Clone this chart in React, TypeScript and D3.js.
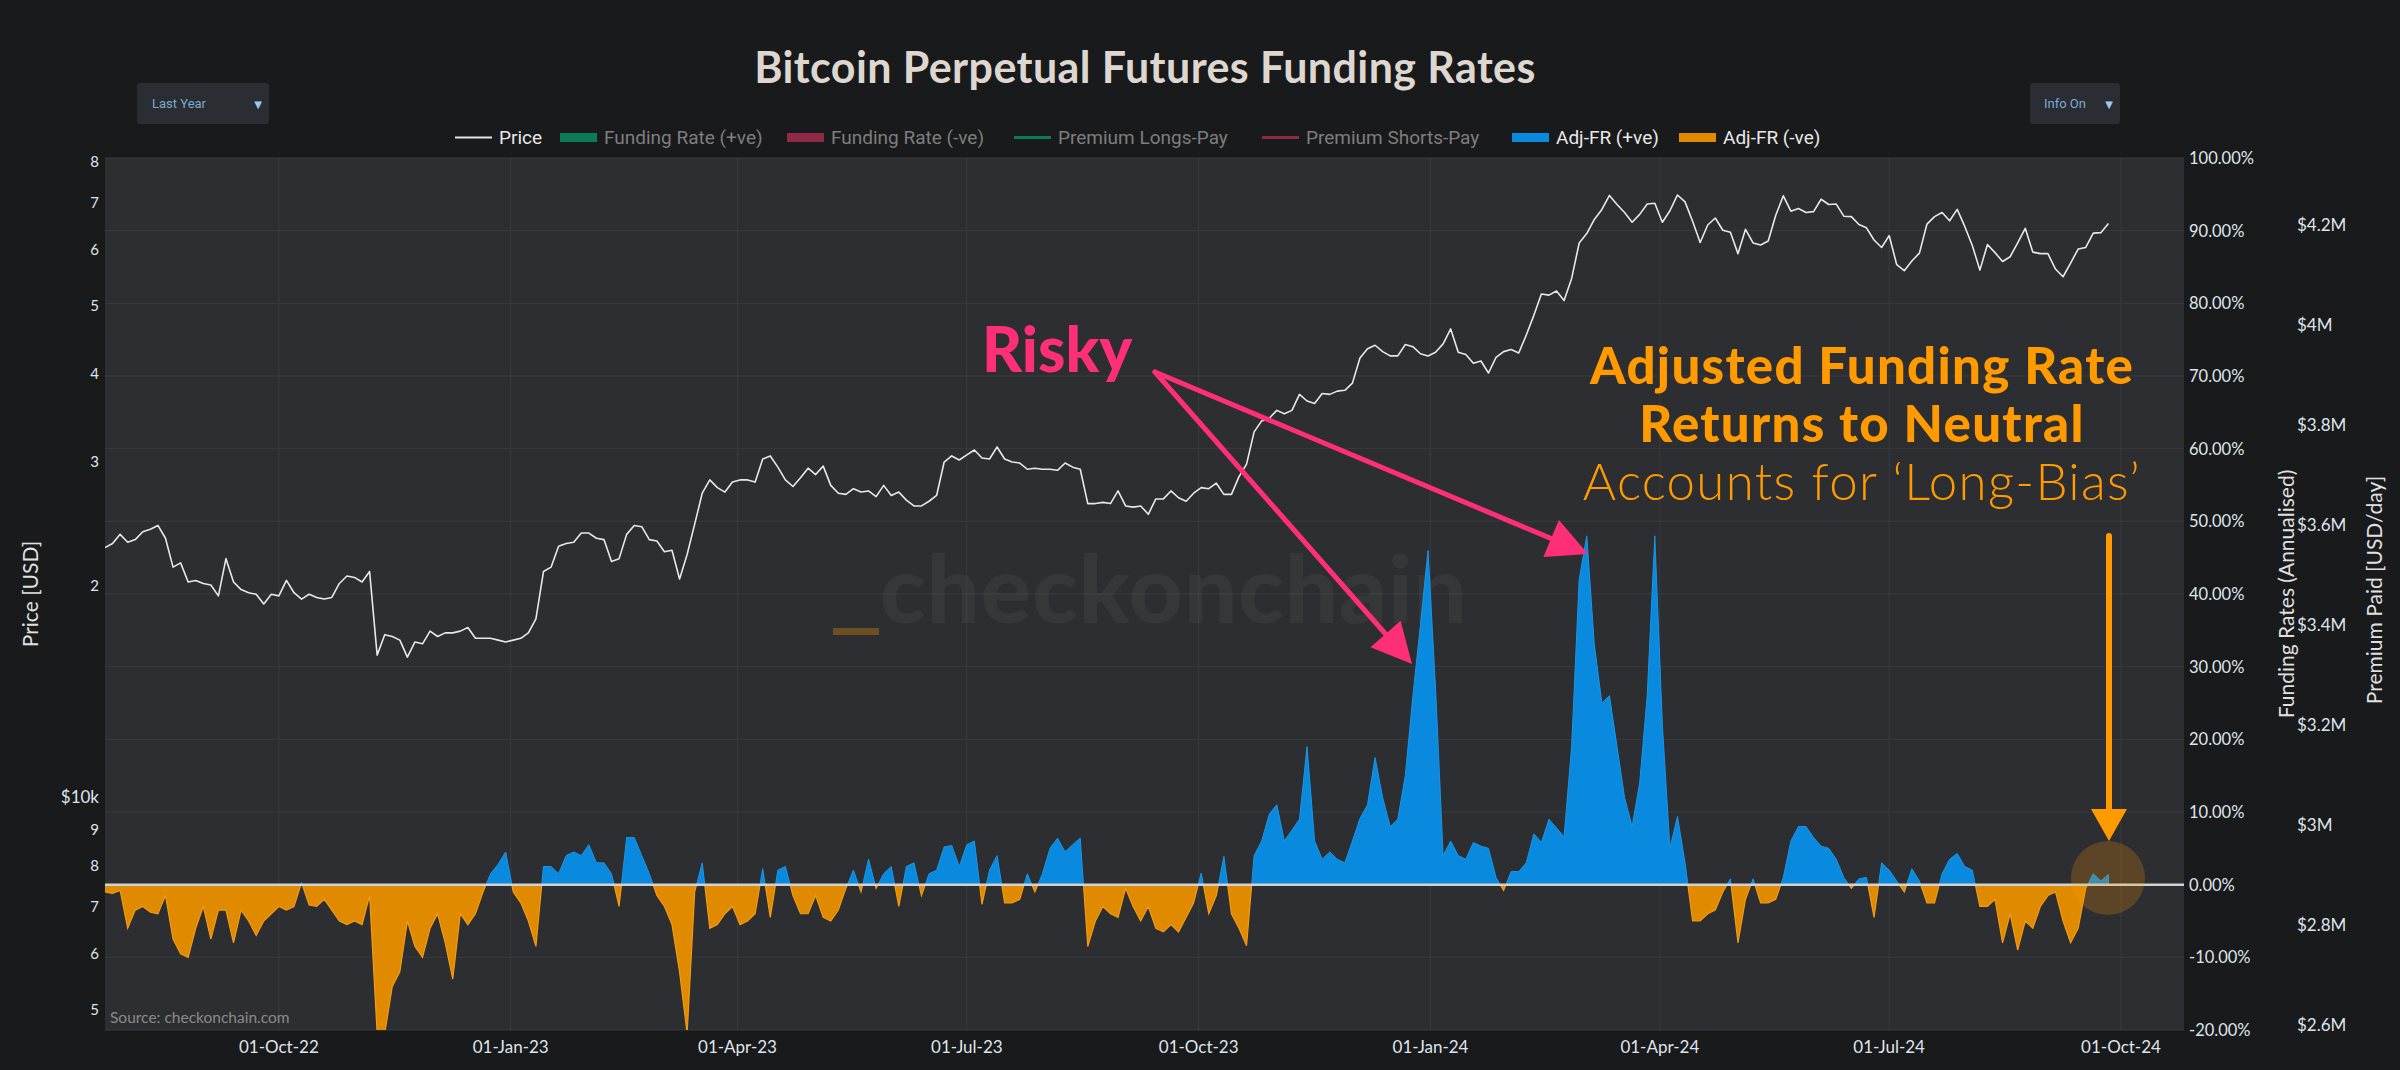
import React from "react";
import * as d3 from "d3";

if (typeof document !== "undefined") {
  document.body.style.margin = "0";
  document.body.style.background = "#191a1c";
  document.body.style.overflow = "hidden";
}

// ---------- DATA ----------
const START = Date.UTC(2022, 6, 24);
const STEP_DAYS = 3;
const END_AXIS = Date.UTC(2024, 9, 26);

// BTC price, thousands of USD, every 3 days from 24-Jul-22
const priceK = [
  22.6, 22.9, 23.6, 23.0, 23.2, 23.8, 24.0, 24.3, 23.3, 21.2, 21.5, 20.2, 20.3, 20.1, 20.0, 19.3, 21.8, 20.2, 19.7, 19.5,
  19.4, 18.8, 19.4, 19.3, 20.3, 19.5, 19.1, 19.4, 19.2, 19.1, 19.2, 20.1, 20.6, 20.5, 20.2, 20.9, 15.9, 17.0, 16.9, 16.7,
  15.8, 16.6, 16.5, 17.2, 16.9, 17.1, 17.1, 17.2, 17.4, 16.8, 16.8, 16.8, 16.7, 16.6, 16.7, 16.8, 17.1, 17.9, 20.9, 21.2,
  22.7, 22.9, 23.0, 23.7, 23.7, 23.3, 23.2, 21.6, 21.8, 23.6, 24.3, 24.2, 23.2, 23.1, 22.3, 22.4, 20.4, 22.1, 24.4, 27.0,
  28.2, 27.5, 27.1, 28.0, 28.2, 28.2, 28.0, 30.2, 30.5, 29.4, 28.2, 27.6, 28.4, 29.3, 28.7, 29.5, 27.7, 27.0, 26.9, 27.4,
  27.1, 27.2, 26.7, 27.7, 26.8, 27.1, 26.4, 25.9, 25.9, 26.3, 26.8, 29.9, 30.5, 30.1, 30.6, 31.1, 30.3, 30.2, 31.4, 30.2,
  29.9, 29.8, 29.2, 29.3, 29.2, 29.2, 29.1, 29.8, 29.4, 29.2, 26.1, 26.1, 26.2, 26.1, 27.2, 25.9, 25.8, 25.9, 25.2, 26.5,
  26.5, 27.2, 26.6, 26.3, 27.0, 27.5, 27.4, 27.9, 26.9, 26.9, 28.5, 29.7, 33.0, 34.2, 34.5, 35.4, 35.0, 35.4, 37.3, 36.5,
  36.2, 37.4, 37.3, 37.7, 37.8, 38.7, 42.0, 43.3, 43.8, 42.9, 42.3, 42.3, 43.9, 43.6, 42.6, 42.3, 42.8, 44.0, 46.2, 42.8,
  42.5, 41.3, 41.6, 40.0, 42.1, 42.9, 43.2, 42.7, 45.3, 48.3, 51.8, 51.6, 52.3, 50.7, 54.5, 61.2, 63.1, 66.1, 68.3, 71.5,
  69.4, 67.6, 65.5, 67.2, 69.5, 69.7, 65.5, 68.0, 71.6, 70.0, 65.7, 61.3, 64.9, 66.4, 63.8, 63.4, 59.1, 64.0, 61.2, 60.8,
  61.6, 67.0, 71.4, 67.9, 68.5, 67.6, 67.8, 70.6, 69.4, 69.5, 66.8, 66.7, 65.0, 64.3, 61.8, 60.3, 62.7, 57.0, 55.9, 57.7,
  59.2, 65.1, 66.7, 67.6, 65.8, 68.3, 64.6, 60.7, 56.0, 60.9, 59.3, 57.6, 58.5, 61.2, 64.2, 59.4, 59.1, 59.1, 56.2, 54.8,
  57.3, 60.0, 60.3, 63.2, 63.3, 65.2,
];

// Adjusted funding rate, annualised %, same dates
const adjFR = [
  -1.0, -1.2, -0.8, -6.0, -3.5, -3.0, -3.8, -4.0, -1.5, -7.5, -9.5, -10, -6, -3.0, -7.5, -3.5, -3.5, -8.0, -3.5, -5,
  -7, -5, -4, -3, -3.5, -3.0, 0.3, -2.8, -3.0, -2.0, -3.5, -5.0, -5.5, -5.0, -5.5, -1.5, -20.5, -20.5, -14, -12,
  -5, -8.5, -10, -6, -4, -8, -13, -4, -5.5, -4, -1, 1.5, 2.8, 4.5, -1.0, -2.5, -5, -8.5, 2.5, 2.5,
  1.5, 4, 4.5, 4.0, 5.5, 3, 3, 1.5, -3, 6.5, 6.5, 4, 1.5, -1.5, -3, -5.5, -12, -20.5, -1, 3,
  -6, -5.5, -4, -3, -5.5, -5, -4, 2.2, -4.5, 2, 2.5, -1.5, -4, -4, -1.5, -4.5, -5, -3.5, -0.5, 2,
  -1.0, 3.5, -0.5, 1.5, 2.5, -3.0, 2.5, 3, -1.5, 1.5, 2, 5.2, 5.4, 2.5, 5.5, 6, -2.7, 2, 4, -2.5,
  -2.5, -2, 1.5, -1, 1.5, 5, 6.4, 4.5, 5.5, 6.4, -8.5, -5, -3, -4, -4.5, -0.5, -3, -5, -3, -6,
  -6.5, -5.5, -6.5, -4.5, -2.5, 1.6, -4, -1.5, 3.9, -4, -6, -8.4, 4, 6, 9.7, 11, 6, 7.5, 9, 19,
  6, 3.5, 4.5, 3.5, 3, 6, 9.1, 11, 17.5, 12, 8, 9, 15, 26, 35.7, 46, 27, 4, 6, 4,
  3.5, 5.8, 5.3, 5, 1, -0.8, 1.8, 1.8, 3, 7, 5.8, 9, 7.8, 6.6, 19, 42, 48, 33, 25, 26,
  19, 12, 8, 14, 26, 48, 22, 5, 9.4, 3, -5, -5, -4, -3.5, -1, 0.8, -8, -2, 0.8, -2.5,
  -2.5, -2, 1, 6, 8, 8, 6.5, 5.3, 5, 3.5, 1, -0.5, 0.8, 1, -4.5, 3, 2, 0.5, -1, 2.2,
  0.5, -2.5, -2.5, 1.5, 3.5, 4.3, 2.5, 2, -3, -3, -2, -8, -4, -9, -5, -6, -3, -1.5, -1, -5,
  -8, -6, -0.5, 1.5, 0.5, 1.4,
];

const xTickDates = [
  Date.UTC(2022, 9, 1), Date.UTC(2023, 0, 1), Date.UTC(2023, 3, 1), Date.UTC(2023, 6, 1), Date.UTC(2023, 9, 1),
  Date.UTC(2024, 0, 1), Date.UTC(2024, 3, 1), Date.UTC(2024, 6, 1), Date.UTC(2024, 9, 1),
];
const priceTicks = [5000, 6000, 7000, 8000, 9000, 10000, 20000, 30000, 40000, 50000, 60000, 70000, 80000];
const priceTickLabels = ["5", "6", "7", "8", "9", "$10k", "2", "3", "4", "5", "6", "7", "8"];
const frTicks = [-20, -10, 0, 10, 20, 30, 40, 50, 60, 70, 80, 90, 100];
const premiumTicks = [2.6, 2.8, 3.0, 3.2, 3.4, 3.6, 3.8, 4.0, 4.2];
const premiumLabels = ["$2.6M", "$2.8M", "$3M", "$3.2M", "$3.4M", "$3.6M", "$3.8M", "$4M", "$4.2M"];

const legendLabels = ["Price", "Funding Rate (+ve)", "Funding Rate (-ve)", "Premium Longs-Pay", "Premium Shorts-Pay", "Adj-FR (+ve)", "Adj-FR (-ve)"];
const legendKinds = ["line", "box", "box", "line", "line", "box", "box"];
const legendColors = ["#e6e6e6", "#0b7a5b", "#8e2a47", "#0b7a5b", "#8e2a47", "#0a8ade", "#e08a00"];
const legendActive = [true, false, false, false, false, true, true];

// ---------- LAYOUT ----------
const W = 2400, H = 1070;
const L = 105, R = 2184, T = 158, B = 1030;
const legendX = [455, 560, 787, 1014, 1262, 1512, 1679];
const FONT = "Lato, 'Open Sans', sans-serif";
const LABEL = "#dfe5ea";
const ORANGE = "#ff9a00";
const PINK = "#ff2f77";

const dateAt = (i: number) => new Date(START + i * STEP_DAYS * 86400000);

function arrowHead(x1: number, y1: number, x2: number, y2: number, len: number, hw: number) {
  const dx = x2 - x1, dy = y2 - y1;
  const d = Math.hypot(dx, dy);
  const ux = dx / d, uy = dy / d;
  const bx = x2 - ux * len, by = y2 - uy * len;
  const px = -uy, py = ux;
  return {
    pts: `${x2},${y2} ${bx + px * hw},${by + py * hw} ${bx - px * hw},${by - py * hw}`,
    bx: x2 - ux * (len * 0.7),
    by: y2 - uy * (len * 0.7),
  };
}

export default function App() {
  const x = d3.scaleUtc().domain([new Date(START), new Date(END_AXIS)]).range([L, R]);
  const yP = d3.scaleLog().domain([4667, 80800]).range([B, T]);
  const yF = d3.scaleLinear().domain([-20, 100]).range([B, T]);
  const yM = d3.scaleLinear().domain([2.588, 4.332]).range([B, T]);
  const y0 = yF(0);

  const area = d3
    .area<number>()
    .x((_, i) => x(dateAt(i)))
    .y0(y0)
    .y1((d) => yF(d));
  const areaPath = area(adjFR) || "";

  const priceLine = d3
    .line<number>()
    .x((_, i) => x(dateAt(i)))
    .y((d) => yP(d * 1000));
  const pricePath = priceLine(priceK) || "";

  const fmtDate = d3.utcFormat("%d-%b-%y");
  const fmtPct = (v: number) => `${v.toFixed(2)}%`;

  // annotation geometry
  const riskStart = [1155, 372];
  const riskTip1 = [1412, 664];
  const riskTip2 = [1588, 554];
  const h1 = arrowHead(riskStart[0], riskStart[1], riskTip1[0], riskTip1[1], 40, 20);
  const h2 = arrowHead(riskStart[0], riskStart[1], riskTip2[0], riskTip2[1], 40, 20);
  const oArrowX = 2109;
  const oHead = arrowHead(oArrowX, 536, oArrowX, 841, 32, 18);

  return (
    <svg width={W} height={H} viewBox={`0 0 ${W} ${H}`} style={{ display: "block", background: "#191a1c" }}>
      <defs>
        <clipPath id="plotClip">
          <rect x={L} y={T} width={R - L} height={B - T} />
        </clipPath>
        <clipPath id="posClip">
          <rect x={L} y={T} width={R - L} height={y0 - T} />
        </clipPath>
        <clipPath id="negClip">
          <rect x={L} y={y0} width={R - L} height={B - y0} />
        </clipPath>
      </defs>

      {/* title */}
      <text x={1145} y={83} textAnchor="middle" fontFamily={FONT} fontWeight={700} fontSize={43} letterSpacing={0.4} fill="#ddd7d0">
        Bitcoin Perpetual Futures Funding Rates
      </text>

      {/* dropdowns */}
      <rect x={137} y={83} width={132} height={41} rx={3} fill="#2a2d31" />
      <text x={152} y={108} fontFamily="Roboto, sans-serif" fontSize={13} fill="#7fa9d6">Last Year</text>
      <text x={258} y={108} textAnchor="middle" fontFamily="DejaVu Sans, sans-serif" fontSize={10} fill="#9cc8ee">▼</text>
      <rect x={2030} y={83} width={90} height={41} rx={3} fill="#2a2d31" />
      <text x={2044} y={108} fontFamily="Roboto, sans-serif" fontSize={13} fill="#7fa9d6">Info On</text>
      <text x={2109} y={108} textAnchor="middle" fontFamily="DejaVu Sans, sans-serif" fontSize={10} fill="#9cc8ee">▼</text>

      {/* legend */}
      {legendLabels.map((lab, i) => (
        <g key={lab}>
          {legendKinds[i] === "box" ? (
            <rect x={legendX[i]} y={133} width={37} height={9} fill={legendColors[i]} />
          ) : (
            <line x1={legendX[i]} x2={legendX[i] + 37} y1={137.5} y2={137.5} stroke={legendColors[i]} strokeWidth={i === 0 ? 2 : 3} />
          )}
          <text x={legendX[i] + 44} y={144} fontFamily="Roboto, sans-serif" fontSize={19} fill={legendActive[i] ? "#e8e8e8" : "#7e7e7e"}>
            {lab}
          </text>
        </g>
      ))}

      {/* plot background */}
      <rect x={L} y={T} width={R - L} height={B - T} fill="#2d2e31" />

      {/* grid */}
      {frTicks.map((t) => (
        <line key={"gy" + t} x1={L} x2={R} y1={yF(t)} y2={yF(t)} stroke="#3a3b3e" strokeWidth={1} />
      ))}
      {xTickDates.map((t) => (
        <line key={"gx" + t} x1={x(new Date(t))} x2={x(new Date(t))} y1={T} y2={B} stroke="#3a3b3e" strokeWidth={1} />
      ))}

      {/* watermark */}
      <text x={880} y={623} fontFamily={FONT} fontWeight={900} fontSize={94} letterSpacing={1} fill="#ffffff" fillOpacity={0.045}>
        checkonchain
      </text>
      <rect x={833} y={628} width={46} height={7} fill={ORANGE} fillOpacity={0.3} />

      {/* funding areas */}
      <g clipPath="url(#plotClip)">
        <g clipPath="url(#posClip)">
          <path d={areaPath} fill="#0a8ade" stroke="#1a96e6" strokeWidth={1} />
        </g>
        <g clipPath="url(#negClip)">
          <path d={areaPath} fill="#e08a00" stroke="#f29b16" strokeWidth={1.2} />
        </g>
        {/* zero line */}
        <line x1={L} x2={R} y1={y0} y2={y0} stroke="#d2d2d2" strokeWidth={2.5} />
        {/* price */}
        <path d={pricePath} fill="none" stroke="#e8e8e8" strokeWidth={1.6} strokeLinejoin="round" />
      </g>

      {/* source */}
      <text x={110} y={1023} fontFamily={FONT} fontSize={15.5} fill="#8a8a8a">Source: checkonchain.com</text>

      {/* x axis labels */}
      {xTickDates.map((t) => (
        <text key={"xl" + t} x={x(new Date(t))} y={1053} textAnchor="middle" fontFamily={FONT} fontSize={17} fill={LABEL}>
          {fmtDate(new Date(t))}
        </text>
      ))}

      {/* left price axis */}
      {priceTicks.map((t, i) => (
        <text
          key={"pl" + i}
          x={99}
          y={yP(t)}
          textAnchor="end"
          dominantBaseline="central"
          fontFamily={FONT}
          fontSize={priceTickLabels[i].length > 1 ? 17 : 15}
          fill={LABEL}
        >
          {priceTickLabels[i]}
        </text>
      ))}
      <text x={29} y={594} transform="rotate(-90 29 594)" textAnchor="middle" dominantBaseline="central" fontFamily={FONT} fontSize={21} fill="#e0e0e0">
        Price [USD]
      </text>

      {/* right funding axis */}
      {frTicks.map((t) => (
        <text key={"fl" + t} x={2189} y={yF(t)} dominantBaseline="central" fontFamily={FONT} fontSize={16.5} fill={LABEL}>
          {fmtPct(t)}
        </text>
      ))}
      <text x={2285} y={594} transform="rotate(-90 2285 594)" textAnchor="middle" dominantBaseline="central" fontFamily={FONT} fontSize={21} fill="#e0e0e0">
        Funding Rates (Annualised)
      </text>

      {/* right premium axis */}
      {premiumTicks.map((t, i) => (
        <text key={"ml" + i} x={2297} y={yM(t)} dominantBaseline="central" fontFamily={FONT} fontSize={17} fill={LABEL}>
          {premiumLabels[i]}
        </text>
      ))}
      <text x={2373} y={590} transform="rotate(-90 2373 590)" textAnchor="middle" dominantBaseline="central" fontFamily={FONT} fontSize={21} fill="#e0e0e0">
        Premium Paid [USD/day]
      </text>

      {/* annotations */}
      <circle cx={2108} cy={878} r={37} fill={ORANGE} fillOpacity={0.22} />
      <line x1={oArrowX} y1={536} x2={oArrowX} y2={oHead.by} stroke={ORANGE} strokeWidth={6} strokeLinecap="round" />
      <polygon points={oHead.pts} fill={ORANGE} />

      <line x1={riskStart[0]} y1={riskStart[1]} x2={h1.bx} y2={h1.by} stroke={PINK} strokeWidth={5} strokeLinecap="round" />
      <polygon points={h1.pts} fill={PINK} />
      <line x1={riskStart[0]} y1={riskStart[1]} x2={h2.bx} y2={h2.by} stroke={PINK} strokeWidth={5} strokeLinecap="round" />
      <polygon points={h2.pts} fill={PINK} />
      <text x={982} y={372} fontFamily={FONT} fontWeight={900} fontSize={62} fill={PINK}>Risky</text>

      <text x={1862} y={384} textAnchor="middle" fontFamily={FONT} fontWeight={900} fontSize={51} letterSpacing={1.3} fill={ORANGE}>
        Adjusted Funding Rate
      </text>
      <text x={1862} y={442} textAnchor="middle" fontFamily={FONT} fontWeight={900} fontSize={51} letterSpacing={1.3} fill={ORANGE}>
        Returns to Neutral
      </text>
      <text x={1862} y={500} textAnchor="middle" fontFamily={FONT} fontWeight={300} fontSize={51} letterSpacing={1.3} fill={ORANGE}>
        Accounts for ‘Long-Bias’
      </text>
    </svg>
  );
}
